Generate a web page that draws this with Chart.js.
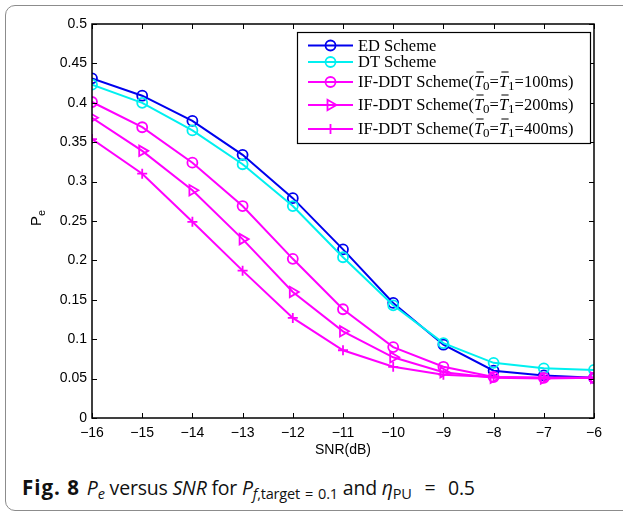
<!DOCTYPE html>
<html>
<head>
<meta charset="utf-8">
<script src="https://cdn.jsdelivr.net/npm/chart.js@4/dist/chart.umd.min.js"></script>
<style>
  html, body { margin: 0; padding: 0; background: #fff; }
  #wrap { position: relative; width: 623px; height: 515px; overflow: hidden; background: #fff; }
  #frame { position: absolute; left: 5px; top: 5px; width: 700px; height: 506px;
           border: 1.5px solid #8c8c8c; border-radius: 10px; box-sizing: border-box; }
  #c { position: absolute; left: 0; top: 0; }
  #cap { position: absolute; left: 22px; top: 474px; font-family: "Open Sans", "Noto Sans", sans-serif;
         font-size: 19.5px; line-height: 27px; color: #111; white-space: nowrap; letter-spacing: -0.2px; }
  #cap sub { font-size: 14.5px; vertical-align: -4px; line-height: 0; }
  #cap b { font-weight: 700; font-size: 20.5px; letter-spacing: 1px; margin-right: 2px; }
  #cap .eq { margin: 0 0.65em; }
  #cap .seq { margin: 0 0.35em; }
</style>
</head>
<body>
<div id="wrap">
  <div id="frame"></div>
  <canvas id="c" width="623" height="465"></canvas>
  <div id="cap"><b>Fig. 8</b> <i>P<sub>e</sub></i> versus <i>SNR</i> for <i>P</i><sub><i>f</i>,target<span class="seq">=</span>0.1</sub> and <i>η</i><sub>PU</sub><span class="eq">=</span>0.5</div>
</div>
<script>
// SNR grid (dB)
const snr = [-16, -15, -14, -13, -12, -11, -10, -9, -8, -7, -6];

// Error probability for each detection scheme
const edScheme   = [0.431, 0.409, 0.377, 0.334, 0.279, 0.214, 0.146, 0.093, 0.060, 0.054, 0.051];
const dtScheme   = [0.423, 0.400, 0.365, 0.322, 0.269, 0.204, 0.143, 0.095, 0.070, 0.063, 0.061];
const ifddt100   = [0.401, 0.369, 0.324, 0.269, 0.202, 0.138, 0.090, 0.065, 0.052, 0.051, 0.051];
const ifddt200   = [0.381, 0.339, 0.289, 0.227, 0.160, 0.110, 0.077, 0.058, 0.051, 0.050, 0.051];
const ifddt400   = [0.354, 0.310, 0.249, 0.187, 0.127, 0.086, 0.065, 0.055, 0.052, 0.051, 0.051];

// Legend names and the averaging window of the IF-DDT variants (ms)
const schemeNames = ['ED Scheme', 'DT Scheme', 'IF-DDT Scheme', 'IF-DDT Scheme', 'IF-DDT Scheme'];
const windowsMs   = [null, null, 100, 200, 400];

// Axis ticks
const xTicks = [-16, -15, -14, -13, -12, -11, -10, -9, -8, -7, -6];
const yTicks = [0, 0.05, 0.1, 0.15, 0.2, 0.25, 0.3, 0.35, 0.4, 0.45, 0.5];

const seriesValues = [edScheme, dtScheme, ifddt100, ifddt200, ifddt400];
const styles = [
  { color: '#0000ee', pointStyle: 'circle',   radius: 5, rotation: 0 },
  { color: '#00f0f0', pointStyle: 'circle',   radius: 5, rotation: 0 },
  { color: '#ff00ff', pointStyle: 'circle',   radius: 5, rotation: 0 },
  { color: '#ff00ff', pointStyle: 'triangle', radius: 6, rotation: 90 },
  { color: '#ff00ff', pointStyle: 'cross',    radius: 5, rotation: 0 }
];

const datasets = seriesValues.map((vals, i) => ({
  label: schemeNames[i] + (windowsMs[i] ? '(T̄0=T̄1=' + windowsMs[i] + 'ms)' : ''),
  data: snr.map((x, k) => ({ x: x, y: vals[k] })),
  borderColor: styles[i].color,
  backgroundColor: 'rgba(0,0,0,0)',
  pointBorderColor: styles[i].color,
  pointBackgroundColor: 'rgba(0,0,0,0)',
  pointStyle: styles[i].pointStyle,
  pointRadius: styles[i].radius,
  pointRotation: styles[i].rotation,
  pointBorderWidth: 1.8,
  borderWidth: 2,
  tension: 0,
  order: seriesValues.length - i
}));

const tickFont = { family: '"Liberation Sans", Arial, sans-serif', size: 14 };

// Axes box with inward tick marks on all four sides, plus the rotated P_e title
const boxPlugin = {
  id: 'boxAxes',
  afterDatasetsDraw(chart) {
    const { ctx, chartArea: a, scales } = chart;
    ctx.save();
    ctx.strokeStyle = '#000';
    ctx.lineWidth = 1.5;
    ctx.strokeRect(a.left, a.top, a.right - a.left, a.bottom - a.top);
    ctx.lineWidth = 1;
    const len = 5;
    ctx.beginPath();
    xTicks.forEach(v => {
      const px = Math.round(scales.x.getPixelForValue(v)) + 0.5;
      ctx.moveTo(px, a.bottom); ctx.lineTo(px, a.bottom - len);
      ctx.moveTo(px, a.top);    ctx.lineTo(px, a.top + len);
    });
    yTicks.forEach(v => {
      const py = Math.round(scales.y.getPixelForValue(v)) + 0.5;
      ctx.moveTo(a.left, py);  ctx.lineTo(a.left + len, py);
      ctx.moveTo(a.right, py); ctx.lineTo(a.right - len, py);
    });
    ctx.stroke();

    // y-axis title: P with subscript e
    ctx.translate(41, 218);
    ctx.rotate(-Math.PI / 2);
    ctx.fillStyle = '#000';
    ctx.textBaseline = 'alphabetic';
    ctx.font = '15px "Liberation Sans", Arial, sans-serif';
    const wP = ctx.measureText('P').width;
    ctx.font = '11px "Liberation Sans", Arial, sans-serif';
    const we = ctx.measureText('e').width;
    const x0 = -(wP + we) / 2;
    ctx.font = '15px "Liberation Sans", Arial, sans-serif';
    ctx.fillText('P', x0, 0);
    ctx.font = '11px "Liberation Sans", Arial, sans-serif';
    ctx.fillText('e', x0 + wP, 4);
    ctx.restore();
  }
};

// Boxed legend in serif type with the overbarred T symbols
const legendPlugin = {
  id: 'seriesLegend',
  afterDraw(chart) {
    const ctx = chart.ctx;
    const bx = 297, by = 32, bw = 293, bh = 111;
    const rowsY = [45.5, 62, 82, 105, 129];
    const main = '16.5px "Liberation Serif", "Times New Roman", serif';
    const ital = 'italic 16.5px "Liberation Serif", "Times New Roman", serif';
    const small = '13px "Liberation Serif", "Times New Roman", serif';
    ctx.save();
    ctx.fillStyle = '#fff';
    ctx.fillRect(bx, by, bw, bh);
    ctx.strokeStyle = '#000';
    ctx.lineWidth = 1.2;
    ctx.strokeRect(bx + 0.5, by + 0.5, bw, bh);

    styles.forEach((st, i) => {
      const y = rowsY[i];
      ctx.strokeStyle = st.color;
      ctx.lineWidth = 2;
      ctx.beginPath();
      ctx.moveTo(308, y); ctx.lineTo(353, y);
      ctx.stroke();
      ctx.lineWidth = 1.8;
      ctx.fillStyle = 'rgba(0,0,0,0)';
      Chart.helpers.drawPoint(ctx, { pointStyle: st.pointStyle, radius: st.radius, rotation: st.rotation, borderWidth: 1.8 }, 330.5, y);

      // text
      ctx.fillStyle = '#000';
      ctx.textBaseline = 'alphabetic';
      let x = 358;
      const base = y + 5;
      const put = (txt, font, dy) => {
        ctx.font = font;
        ctx.fillText(txt, x, base + (dy || 0));
        x += ctx.measureText(txt).width;
      };
      const tbar = (sub) => {
        ctx.font = ital;
        const w = ctx.measureText('T').width;
        ctx.fillText('T', x, base);
        ctx.strokeStyle = '#000';
        ctx.lineWidth = 1;
        ctx.beginPath();
        ctx.moveTo(x + 2.5, base - 15); ctx.lineTo(x + w + 0.5, base - 15);
        ctx.stroke();
        x += w;
        put(sub, small, 3);
      };
      if (windowsMs[i]) {
        put(schemeNames[i] + '(', main);
        tbar('0');
        put('=', main);
        tbar('1');
        put('=' + windowsMs[i] + 'ms)', main);
      } else {
        put(schemeNames[i], main);
      }
    });
    ctx.restore();
  }
};

new Chart(document.getElementById('c'), {
  type: 'line',
  data: { datasets: datasets },
  plugins: [boxPlugin, legendPlugin],
  options: {
    responsive: false,
    animation: false,
    layout: { padding: { top: 24, right: 29, left: 0, bottom: 6 } },
    plugins: { legend: { display: false }, tooltip: { enabled: false } },
    scales: {
      x: {
        type: 'linear', min: -16, max: -6,
        afterBuildTicks: s => { s.ticks = xTicks.map(v => ({ value: v })); },
        ticks: {
          callback: v => (v < 0 ? '\u2212' : '') + Math.abs(v),
          color: '#000', font: tickFont, padding: 7, maxRotation: 0, autoSkip: false
        },
        grid: { display: false, drawTicks: false },
        border: { display: false },
        title: { display: true, text: 'SNR(dB)', color: '#000', font: tickFont, padding: { top: 0, bottom: 0 } },
        afterFit: s => { s.height = 41; }
      },
      y: {
        type: 'linear', min: 0, max: 0.5,
        afterBuildTicks: s => { s.ticks = yTicks.map(v => ({ value: v })); },
        ticks: {
          callback: v => String(+v.toFixed(2)),
          color: '#000', font: tickFont, padding: 5, autoSkip: false
        },
        grid: { display: false, drawTicks: false },
        border: { display: false },
        afterFit: s => { s.width = 92; }
      }
    }
  }
});
</script>
</body>
</html>
